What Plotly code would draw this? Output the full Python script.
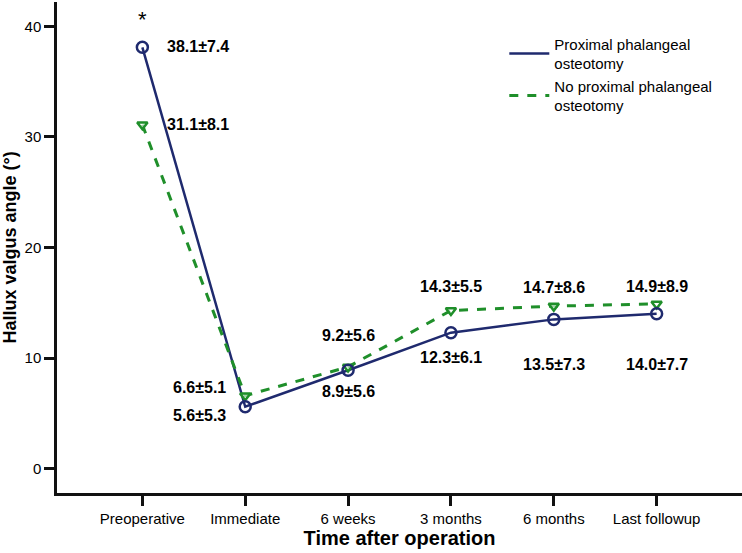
import plotly.graph_objects as go

categories = ["Preoperative", "Immediate", "6 weeks", "3 months", "6 months", "Last followup"]
ppo_mean = [38.1, 5.6, 8.9, 12.3, 13.5, 14.0]
ppo_sd = [7.4, 5.3, 5.6, 6.1, 7.3, 7.7]
noppo_mean = [31.1, 6.6, 9.2, 14.3, 14.7, 14.9]
noppo_sd = [8.1, 5.1, 5.6, 5.5, 8.6, 8.9]
series_names = ["Proximal phalangeal<br>osteotomy", "No proximal phalangeal<br>osteotomy"]

BLUE = "#1f2a6e"
GREEN = "#1f8f2a"
FONT = "Liberation Sans, Arial, sans-serif"

xs = list(range(len(categories)))
fig = go.Figure()

# lines (legend)
fig.add_trace(go.Scatter(x=xs, y=ppo_mean, mode="lines", name=series_names[0],
                         line=dict(color=BLUE, width=2.5)))
fig.add_trace(go.Scatter(x=xs, y=noppo_mean, mode="lines", name=series_names[1],
                         line=dict(color=GREEN, width=3, dash="dash")))
# markers (no legend)
fig.add_trace(go.Scatter(x=xs, y=noppo_mean, mode="markers", showlegend=False,
                         marker=dict(symbol="triangle-down", size=9, color="rgba(255,255,255,0.6)",
                                     line=dict(color=GREEN, width=2.5))))
fig.add_trace(go.Scatter(x=xs, y=ppo_mean, mode="markers", showlegend=False,
                         marker=dict(symbol="circle-open", size=11, color=BLUE,
                                     line=dict(color=BLUE, width=2.5))))

# label offsets (pixels) for each point: (xanchor, xshift, yshift)
ppo_off = [("left", 23, 1), ("right", -17, -9), ("center", 0, -21),
           ("center", 0, -25), ("center", 0, -45), ("center", 0, -51)]
noppo_off = [("left", 23, 0), ("right", -17, 8), ("center", 0, 31),
             ("center", 0, 24), ("center", 0, 19), ("center", 0, 17)]

def add_labels(means, sds, offs):
    for i, (m, s) in enumerate(zip(means, sds)):
        xa, xsft, ysft = offs[i]
        fig.add_annotation(x=xs[i], y=m, text=f"{m:.1f}\u00b1{s:.1f}", showarrow=False,
                           xanchor=xa, yanchor="middle", xshift=xsft, yshift=ysft,
                           font=dict(family=FONT, size=16, color="black", weight="bold"))

add_labels(ppo_mean, ppo_sd, ppo_off)
add_labels(noppo_mean, noppo_sd, noppo_off)

fig.add_annotation(x=xs[0], y=ppo_mean[0], text="*", showarrow=False, yshift=28,
                   font=dict(family=FONT, size=22, color="black"))

fig.update_layout(
    width=742, height=553,
    margin=dict(l=57, r=0, t=2, b=60),
    plot_bgcolor="white", paper_bgcolor="white",
    font=dict(family=FONT, size=15, color="black"),
    showlegend=True,
    legend=dict(x=0.653, y=0.948, xanchor="left", yanchor="top",
                bgcolor="rgba(0,0,0,0)", font=dict(family=FONT, size=15, color="black"),
                itemwidth=40, tracegroupgap=6),
    xaxis=dict(range=[-0.83, 5.83], tickmode="array", tickvals=xs, ticktext=categories,
               showgrid=False, zeroline=False, showline=True, linecolor="#111", linewidth=2.5,
               ticks="outside", ticklen=10, tickwidth=2.5, tickcolor="#111",
               tickfont=dict(size=15), automargin=False,
               title=dict(text="Time after operation", standoff=6,
                          font=dict(family=FONT, size=20, weight="bold"))),
    yaxis=dict(range=[-2.2, 42.2], tickvals=[0, 10, 20, 30, 40],
               showgrid=False, zeroline=False, showline=True, linecolor="#111", linewidth=2.5,
               ticks="outside", ticklen=10, tickwidth=2.5, tickcolor="#111",
               tickfont=dict(size=15), automargin=False,
               title=dict(text="Hallux valgus angle (\u00b0)", standoff=6,
                          font=dict(family=FONT, size=18, weight="bold"))),
)

fig.write_html("out.html", config={"displayModeBar": False},
               post_script="document.body.style.margin='0';")
